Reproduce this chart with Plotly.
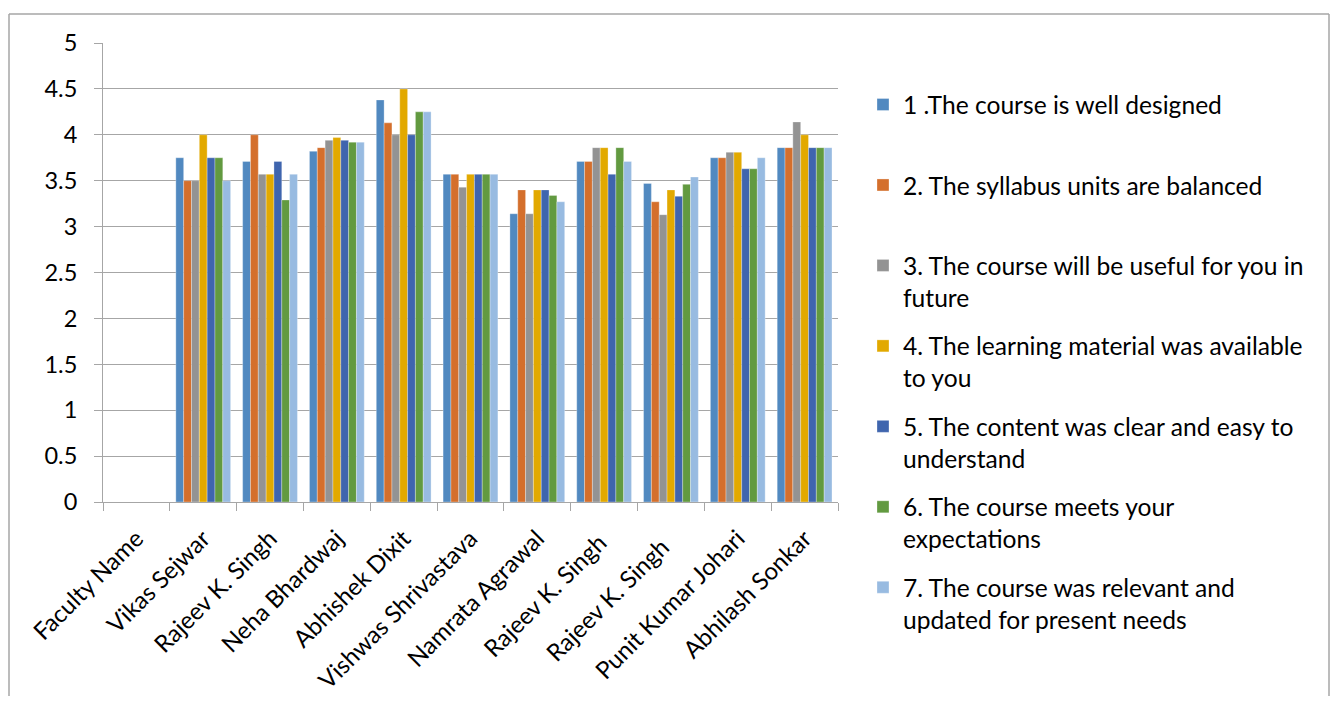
import plotly.graph_objects as go

categories = ["Faculty Name", "Vikas Sejwar", "Rajeev K. Singh", "Neha Bhardwaj", "Abhishek Dixit",
              "Vishwas Shrivastava", "Namrata Agrawal", "Rajeev K. Singh ", "Rajeev K. Singh  ",
              "Punit Kumar Johari", "Abhilash Sonkar"]

series_names = [
    "1 .The course is well designed",
    "2. The syllabus units are balanced",
    "3. The course will be useful for you in<br>future",
    "4. The learning material was available<br>to you",
    "5. The content was clear and easy to<br>understand",
    "6. The course meets your<br>expectations",
    "7. The course was relevant and<br>updated for present needs",
]

s1 = [None, 3.75, 3.71, 3.82, 4.38, 3.57, 3.14, 3.71, 3.47, 3.75, 3.86]
s2 = [None, 3.50, 4.00, 3.86, 4.13, 3.57, 3.40, 3.71, 3.27, 3.75, 3.86]
s3 = [None, 3.50, 3.57, 3.94, 4.00, 3.43, 3.14, 3.86, 3.13, 3.81, 4.14]
s4 = [None, 4.00, 3.57, 3.97, 4.50, 3.57, 3.40, 3.86, 3.40, 3.81, 4.00]
s5 = [None, 3.75, 3.71, 3.94, 4.00, 3.57, 3.40, 3.57, 3.33, 3.63, 3.86]
s6 = [None, 3.75, 3.29, 3.92, 4.25, 3.57, 3.34, 3.86, 3.46, 3.63, 3.86]
s7 = [None, 3.50, 3.57, 3.92, 4.25, 3.57, 3.27, 3.71, 3.54, 3.75, 3.86]

colors = ["#5189C0", "#D46F2C", "#939393", "#E2A900", "#3F65AE", "#629A40", "#98BBE1"]

yticks = [0, 0.5, 1, 1.5, 2, 2.5, 3, 3.5, 4, 4.5, 5]

FONT = "Lato"

fig = go.Figure()
for i, (name, vals) in enumerate(zip(series_names, [s1, s2, s3, s4, s5, s6, s7])):
    label = name if "<br>" in name else name + "<br> "
    fig.add_trace(go.Bar(
        x=categories, y=vals, name=label,
        marker=dict(color=colors[i], line=dict(color="rgba(255,255,255,0.5)", width=0.6)),
        legendgroup=f"g{i}",
    ))

fig.update_layout(
    width=1322, height=688,
    margin=dict(l=95, r=492, t=35, b=194, autoexpand=False),
    paper_bgcolor="white", plot_bgcolor="white",
    barmode="group", bargap=0.18, bargroupgap=0,
    font=dict(family=FONT, size=23, color="#000000"),
    legend=dict(
        x=1.034, xanchor="left",
        y=0.915, yanchor="top",
        font=dict(family=FONT, size=24.6, color="#000000"),
        tracegroupgap=13.5, valign="top",
        itemwidth=30, bgcolor="rgba(0,0,0,0)",
        maxheight=680,
    ),
    showlegend=True,
)

fig.update_xaxes(
    type="category", tickangle=-45, tickfont=dict(family=FONT, size=24),
    showline=True, linecolor="#a6a6a6", linewidth=1,
    ticks="outside", tickson="boundaries", ticklen=8, tickcolor="#a6a6a6",
    ticklabelstandoff=12,
    showgrid=False, automargin=False,
)
fig.update_yaxes(
    range=[0, 5], tickvals=yticks, ticktext=[f"{v:g}" for v in yticks],
    tickfont=dict(family=FONT, size=23.5),
    showline=True, linecolor="#a6a6a6", linewidth=1,
    ticks="outside", ticklen=8, tickcolor="#a6a6a6", ticklabelstandoff=12,
    showgrid=True, gridcolor="#a6a6a6", gridwidth=1.3,
    zeroline=False, automargin=False,
)

# outer chart border (left, top, right edges; bottom lies below the visible page)
bx0 = (9 - 103) / 735
bx1 = (1329 - 103) / 735
by_top = (502 - 14) / 459
by_bot = (502 - 710) / 459
border = dict(color="#a6a6a6", width=1.5)
fig.add_shape(type="line", xref="paper", yref="paper", x0=bx0, x1=bx0, y0=by_bot, y1=by_top, line=border)
fig.add_shape(type="line", xref="paper", yref="paper", x0=bx0, x1=bx1, y0=by_top, y1=by_top, line=border)
fig.add_shape(type="line", xref="paper", yref="paper", x0=bx1, x1=bx1, y0=by_bot, y1=by_top, line=border)

fig.write_html("out.html")
